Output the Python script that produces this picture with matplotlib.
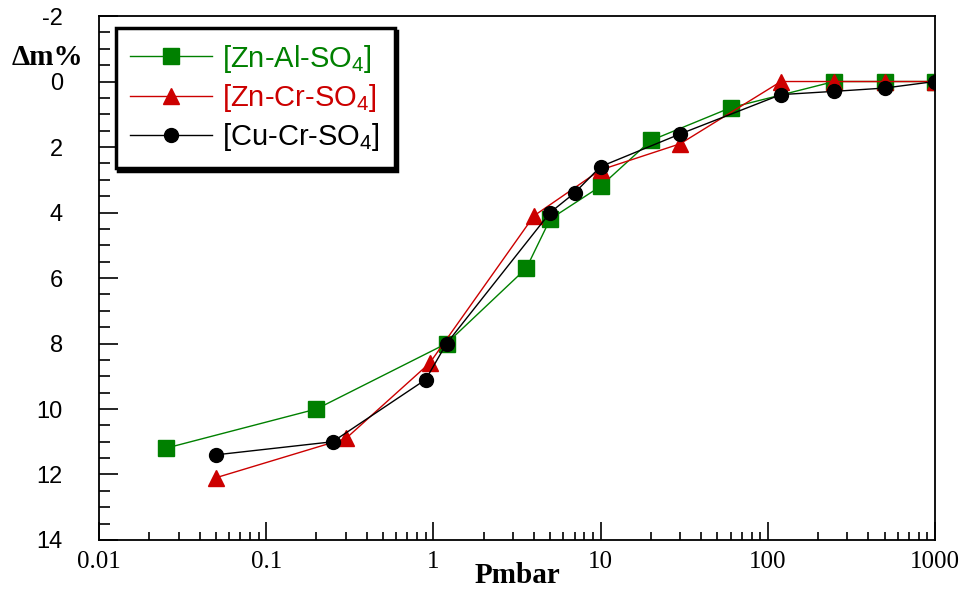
import matplotlib.pyplot as plt
from matplotlib.ticker import MultipleLocator, LogLocator, NullFormatter, FixedLocator

plt.rcParams['font.family'] = ['Liberation Sans', 'DejaVu Sans']
plt.rcParams['mathtext.fontset'] = 'custom'
plt.rcParams['mathtext.rm'] = 'Liberation Sans'
plt.rcParams['mathtext.it'] = 'Liberation Sans'
plt.rcParams['axes.unicode_minus'] = False

# pressure (mbar) and mass loss (%)
p_znal = [0.025, 0.2, 1.2, 3.6, 5, 10, 20, 60, 250, 500, 1000]
m_znal = [11.2, 10.0, 8.0, 5.7, 4.2, 3.2, 1.8, 0.8, 0, 0, 0]

p_zncr = [0.05, 0.3, 0.95, 4, 10, 30, 120, 250, 500, 1000]
m_zncr = [12.1, 10.9, 8.6, 4.1, 2.7, 1.9, 0, 0, 0, 0]

p_cucr = [0.05, 0.25, 0.9, 1.2, 5, 7, 10, 30, 120, 250, 500, 1000]
m_cucr = [11.4, 11.0, 9.1, 8.0, 4.0, 3.4, 2.6, 1.6, 0.4, 0.3, 0.2, 0]

labels = ['[Zn-Al-SO$_4$]', '[Zn-Cr-SO$_4$]', '[Cu-Cr-SO$_4$]']
colors = ['#008000', '#cc0000', '#000000']
x_ticks = [0.01, 0.1, 1, 10, 100, 1000]
x_ticklabels = ['0.01', '0.1', '1', '10', '100', '1000']

fig = plt.figure(figsize=(9.63, 5.89), dpi=100)
ax = fig.add_axes([0.1028, 0.0832, 0.868, 0.8896])

ax.plot(p_znal, m_znal, '-s', color=colors[0], lw=1, ms=11, label=labels[0])
ax.plot(p_zncr, m_zncr, '-^', color=colors[1], lw=1, ms=11, label=labels[1])
ax.plot(p_cucr, m_cucr, '-o', color=colors[2], lw=1, ms=10, label=labels[2])

ax.set_xscale('log')
ax.set_xlim(0.01, 1000)
ax.set_ylim(14, -2)

ax.xaxis.set_major_locator(FixedLocator(x_ticks))
ax.set_xticklabels(x_ticklabels, family='Liberation Serif', fontsize=18)
ax.xaxis.set_minor_locator(LogLocator(base=10, subs=range(2, 10)))
ax.xaxis.set_minor_formatter(NullFormatter())
ax.yaxis.set_major_locator(MultipleLocator(2))
ax.yaxis.set_minor_locator(MultipleLocator(0.5))
ax.tick_params(axis='y', which='major', direction='in', length=14, width=1.2,
               labelsize=17, pad=26)
ax.tick_params(axis='y', which='minor', direction='in', length=8, width=1.2)
ax.tick_params(axis='x', which='major', direction='in', length=13, width=1.2,
               pad=8)
ax.tick_params(axis='x', which='minor', direction='in', length=6, width=1.2)
for s in ax.spines.values():
    s.set_linewidth(1.3)

ax.set_xlabel('Pmbar', family='Liberation Serif', fontweight='bold',
              fontsize=21, labelpad=-8)
fig.text(0.049, 0.903, 'Δm%', family='Liberation Serif', fontweight='bold',
         fontsize=21, ha='center', va='center')

leg = ax.legend(loc='upper left', bbox_to_anchor=(0.02, 0.977), fontsize=21,
                frameon=True, fancybox=False, shadow={'color': 'black', 'alpha': 1},
                handlelength=2.8, handletextpad=0.35, labelspacing=0.25,
                borderpad=0.5, borderaxespad=0)
leg.get_frame().set_edgecolor('black')
leg.get_frame().set_linewidth(2.5)
for txt, c in zip(leg.get_texts(), colors):
    txt.set_color(c)

fig.savefig('out.png', dpi=100)
